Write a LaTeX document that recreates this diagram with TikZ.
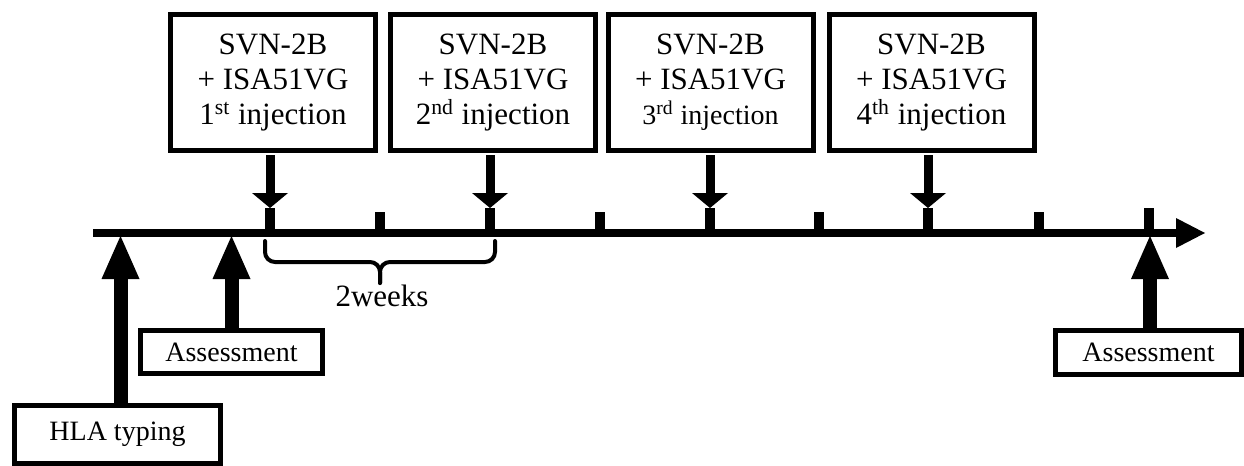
\documentclass[tikz,border=0pt]{standalone}
\usepackage{fontspec}
\setmainfont{Liberation Serif}
\usetikzlibrary{arrows.meta}

\tikzset{
  injbox/.style={draw,line width=2.5pt,minimum width=102.5pt,minimum height=68pt,align=center,inner sep=0pt,font=\fontsize{15.5}{17.5}\selectfont},
  evbox/.style={draw,line width=2.5pt,inner sep=0pt,font=\fontsize{14}{16}\selectfont},
  downarr/.style={line width=4.5pt,shorten <=1pt,-{Triangle[length=7.5pt,width=18pt,line width=0pt]}},
  uparr/.style={line width=7pt,-{Triangle[length=21.5pt,width=19pt,line width=0pt]}},
  bracket/.style={line width=2pt,line cap=round,rounded corners=5pt},
}

\begin{document}
\begin{tikzpicture}[x=0.5pt,y=-0.5pt]
  \useasboundingbox (0,0) rectangle (1244,466);
  % time axis
  \coordinate (ax0) at (93,233);
  \coordinate (ax1) at (1205,233);
  \draw[line width=4pt,-{Triangle[length=14.5pt,width=15pt,line width=0pt]}] (ax0) -- (ax1);
  % ticks
  \foreach \x/\top/\n in {270/208/t1,380/212/m1,490/208/t2,600/212/m2,710/208/t3,819/212/m3,928/208/t4,1039/212/m4,1149/208/t5}{
    \coordinate (\n) at (\x,\top);
    \draw[line width=5pt] (\x,233) -- (\n);
  }
  % injections
  \node[injbox] (inj1) at (273,82.5) {SVN-2B\\+ ISA51VG\\1\textsuperscript{st} injection};
  \node[injbox] (inj2) at (493,82.5) {SVN-2B\\+ ISA51VG\\2\textsuperscript{nd} injection};
  \node[injbox] (inj3) at (710.5,82.5) {SVN-2B\\+ ISA51VG\\{\fontsize{14}{17.5}\selectfont 3\textsuperscript{rd} injection}};
  \node[injbox] (inj4) at (931.5,82.5) {SVN-2B\\+ ISA51VG\\4\textsuperscript{th} injection};
  \draw[downarr] (inj1.south -| t1) -- (t1);
  \draw[downarr] (inj2.south -| t2) -- (t2);
  \draw[downarr] (inj3.south -| t3) -- (t3);
  \draw[downarr] (inj4.south -| t4) -- (t4);
  % typing and assessments
  \node[evbox,minimum width=103pt,minimum height=29pt] (hla) at (117.5,434.5) {HLA typing};
  \node[evbox,minimum width=91pt,minimum height=21.5pt] (as1) at (231.5,352) {Assessment};
  \node[evbox,minimum width=93pt,minimum height=22pt] (as2) at (1148.5,352.5) {Assessment};
  \coordinate (u1) at (120.5,236);
  \coordinate (u2) at (231.5,236);
  \coordinate (u3) at (1150,236);
  \draw[uparr] (hla.north -| u1) -- (u1);
  \draw[uparr] (as1.north -| u2) -- (u2);
  \draw[uparr] (as2.north -| u3) -- (u3);
  % two weeks
  \coordinate (brl) at (265,241);
  \coordinate (brr) at (495,241);
  \coordinate (brm) at (380,283);
  \draw[bracket] (brl) |- (380,262) -- (brm);
  \draw[bracket] (brr) |- (380,262) -- (brm);
  \node[font=\fontsize{15.5}{17}\selectfont,anchor=north,inner sep=0pt] (wk) at (382,285) {2weeks};
\end{tikzpicture}
\end{document}
